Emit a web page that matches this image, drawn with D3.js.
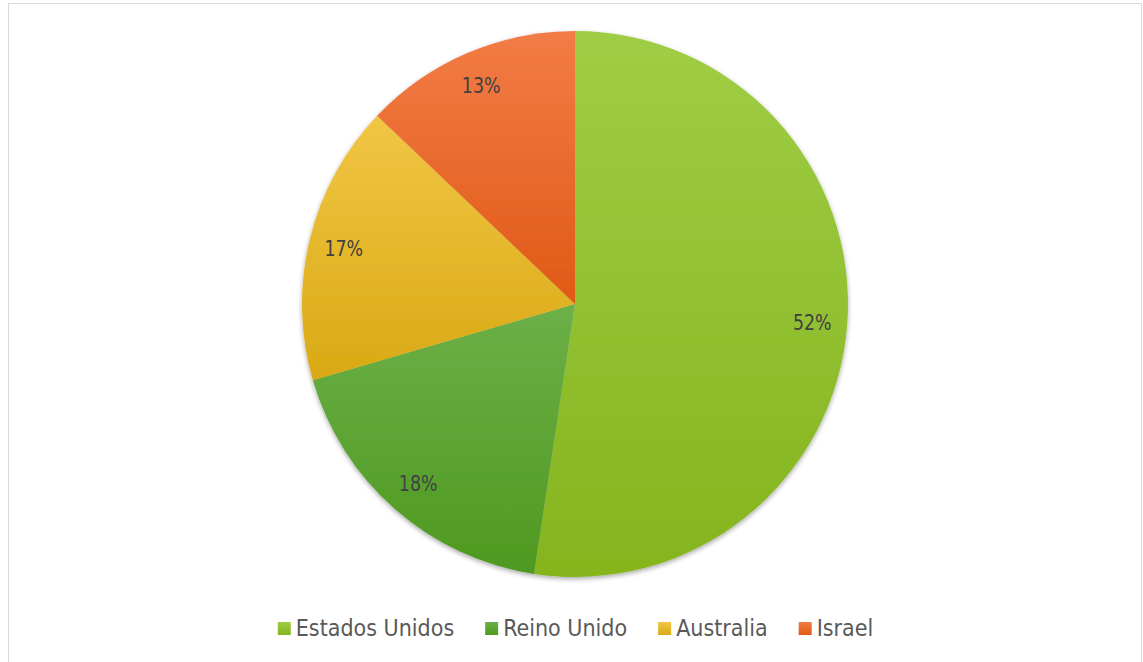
<!DOCTYPE html>
<html>
<head>
<meta charset="utf-8">
<script src="https://cdn.jsdelivr.net/npm/d3@7"></script>
<style>
  body { margin: 0; background: #fff; }
  svg { display: block; }
</style>
</head>
<body>
<div id="chart"></div>
<script>
const W = 1143, H = 662

// data
const countries = ["Estados Unidos", "Reino Unido", "Australia", "Israel"]
const shares = [52.4, 18.1, 16.6, 12.9]
const colorsTop = ["#9fcd45", "#6cb048", "#f1c644", "#f27c46"]
const colorsBottom = ["#85b41e", "#4e9920", "#d9a915", "#e05915"]

const FONT = "'DejaVu Sans Condensed', 'DejaVu Sans', sans-serif"

const svg = d3.select("#chart").append("svg")
	.attr("width", W)
	.attr("height", H)

// chart border
svg.append("rect")
	.attr("x", 8.5).attr("y", 3.5)
	.attr("width", 1133).attr("height", 680)
	.attr("fill", "#fff")
	.attr("stroke", "#d9d9d9")

const defs = svg.append("defs")

countries.forEach((c, i) => {
	const g = defs.append("linearGradient")
		.attr("id", "grad" + i)
		.attr("x1", 0).attr("y1", 0).attr("x2", 0).attr("y2", 1)
	g.append("stop").attr("offset", "0%").attr("stop-color", colorsTop[i])
	g.append("stop").attr("offset", "100%").attr("stop-color", colorsBottom[i])
})

const shadow = defs.append("filter").attr("id", "shadow")
	.attr("x", "-10%").attr("y", "-10%").attr("width", "120%").attr("height", "120%")
shadow.append("feGaussianBlur").attr("in", "SourceAlpha").attr("stdDeviation", 2.5)
shadow.append("feOffset").attr("dx", 0).attr("dy", 2).attr("result", "b")
shadow.append("feComponentTransfer").append("feFuncA").attr("type", "linear").attr("slope", 0.35)
const merge = shadow.append("feMerge")
merge.append("feMergeNode")
merge.append("feMergeNode").attr("in", "SourceGraphic")

const cx = 575, cy = 304, R = 273

const pie = d3.pie().sort(null).value(d => d)
const arcs = pie(shares)

const arc = d3.arc().innerRadius(0).outerRadius(R)
const labelArc = d3.arc().innerRadius(238).outerRadius(238)

const g = svg.append("g")
	.attr("transform", `translate(${cx}, ${cy})`)

g.append("g")
	.attr("filter", "url(#shadow)")
	.selectAll("path")
	.data(arcs)
	.enter().append("path")
	.attr("d", arc)
	.attr("fill", (d, i) => `url(#grad${i})`)

// labels: a bit narrower than tall, like the original face
g.selectAll("text.lbl")
	.data(arcs)
	.enter().append("text")
	.attr("class", "lbl")
	.attr("transform", d => `translate(${labelArc.centroid(d)}) scale(0.88, 1)`)
	.attr("text-anchor", "middle")
	.attr("dy", "0.36em")
	.attr("font-family", FONT)
	.attr("font-size", 22)
	.attr("fill", "#404040")
	.text(d => Math.round(d.data) + "%")

// legend
const legend = svg.append("g")
let lx = 0
const items = legend.selectAll("g")
	.data(countries)
	.enter().append("g")

items.append("rect")
	.attr("width", 13).attr("height", 13)
	.attr("y", -14)
	.attr("fill", (d, i) => `url(#grad${i})`)

items.append("text")
	.attr("x", 18)
	.attr("y", 0)
	.attr("font-family", FONT)
	.attr("font-size", 23)
	.attr("fill", "#595959")
	.text(d => d)

items.each(function () {
	const w = this.getBBox().width
	d3.select(this).attr("transform", `translate(${lx}, 0)`)
	lx += w + 31
})
const totalW = lx - 31
legend.attr("transform", `translate(${(W - totalW) / 2 + 4}, 636)`)
</script>
</body>
</html>
